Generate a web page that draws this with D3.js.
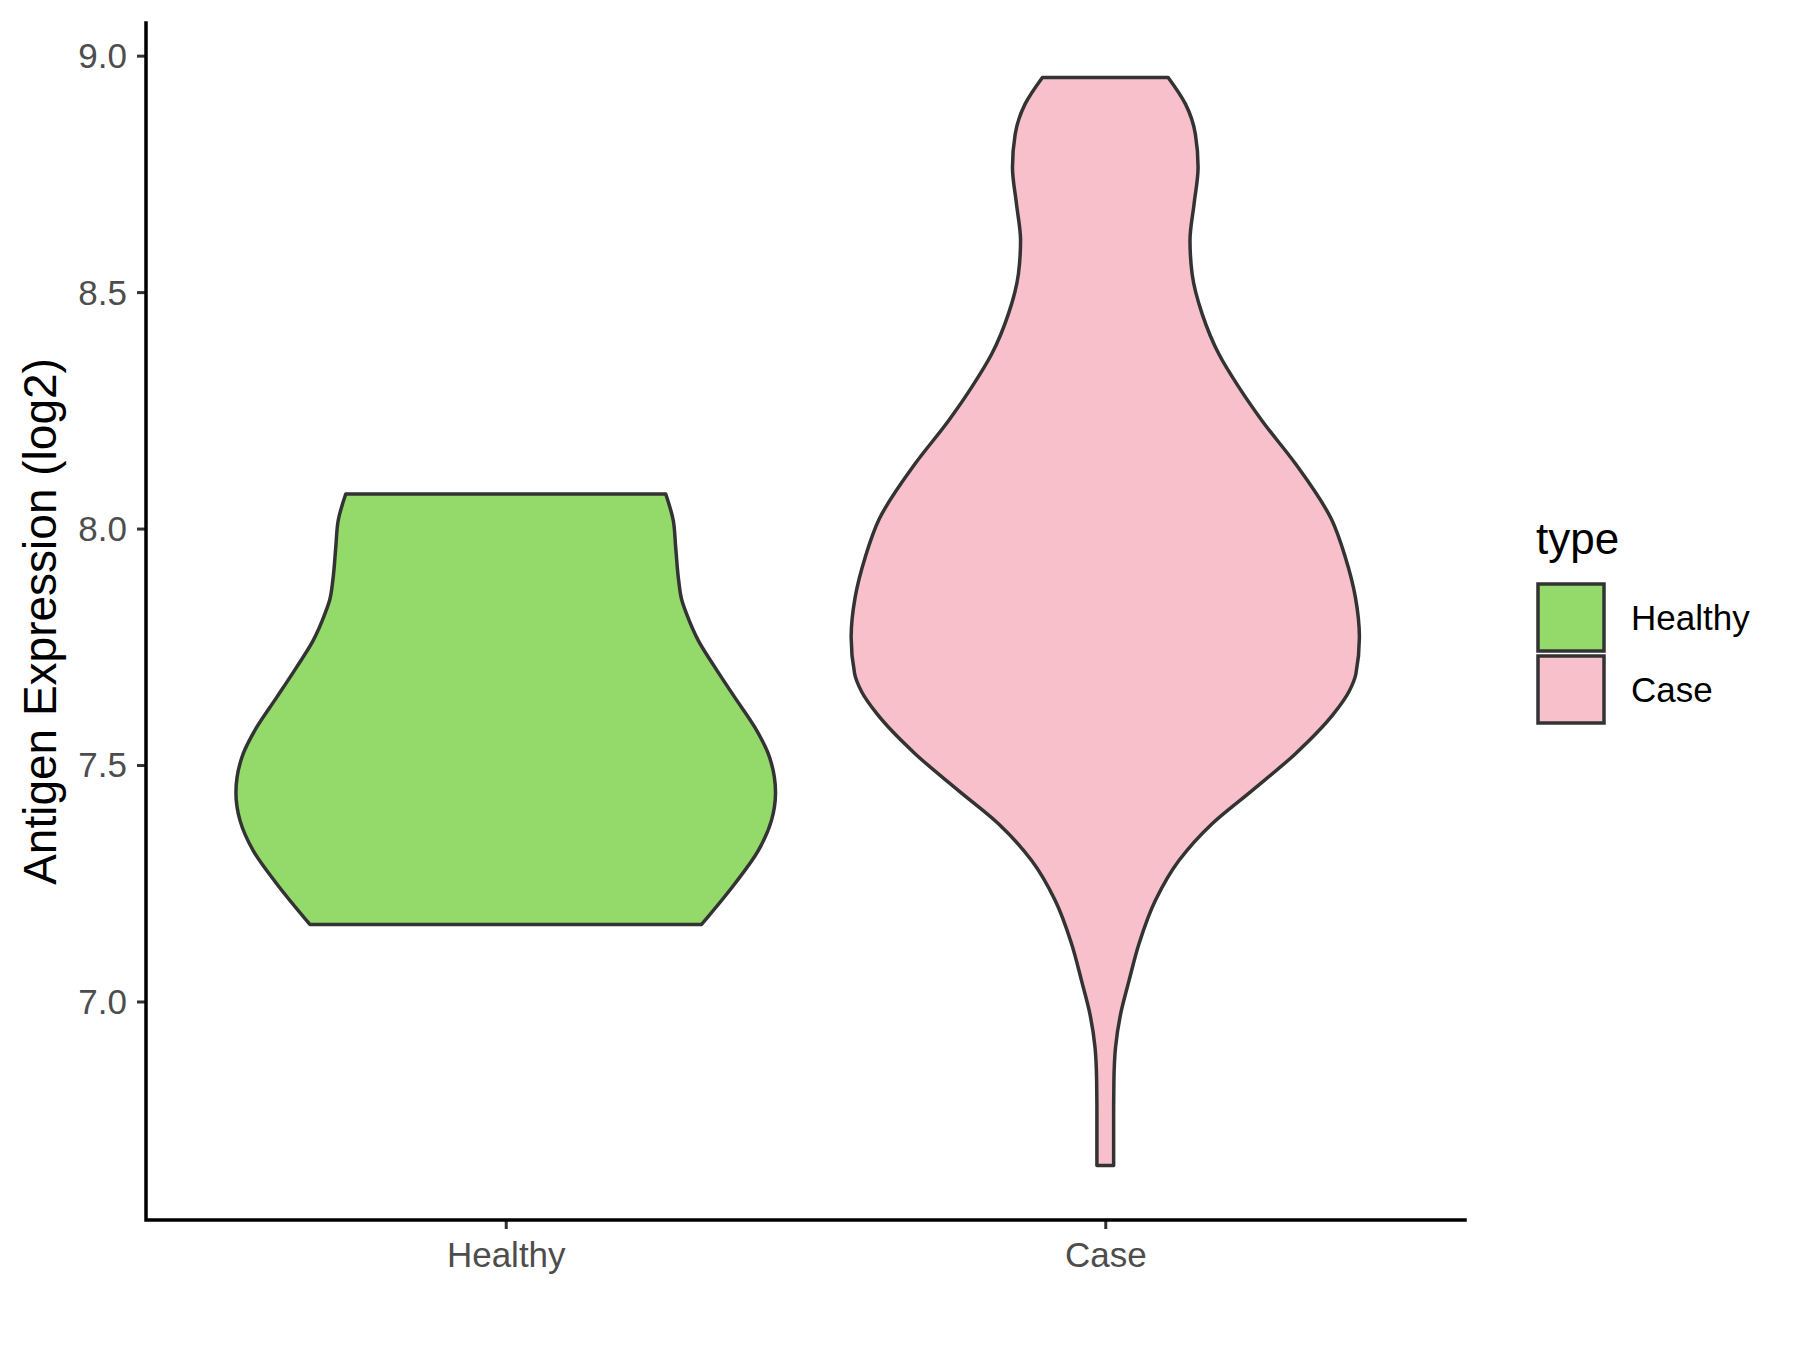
<!DOCTYPE html>
<html>
<head>
<meta charset="utf-8">
<script src="https://cdn.jsdelivr.net/npm/d3@7"></script>
<style>
  html, body { margin: 0; padding: 0; background: #ffffff; }
  svg { display: block; }
  text { font-family: "Liberation Sans", Arial, Helvetica, sans-serif; }
</style>
</head>
<body>
<svg id="chart" width="1800" height="1350"></svg>
<script>
// ---- data ----
const categories = ["Healthy", "Case"];
const fills = ["#93da6a", "#f7c0cb"];
const yTicks = [7.0, 7.5, 8.0, 8.5, 9.0];

// Healthy violin: expression values and relative density (1 = widest violin)
const healthyValues  = [8.073, 8.017, 7.960, 7.890, 7.850, 7.820, 7.763, 7.707, 7.643, 7.580, 7.524, 7.442, 7.383, 7.319, 7.249, 7.163];
const healthyDensity = [0.593, 0.621, 0.630, 0.641, 0.652, 0.670, 0.714, 0.775, 0.849, 0.923, 0.973, 1.000, 0.985, 0.936, 0.849, 0.726];

// Case violin
const caseValues  = [8.954, 8.898, 8.834, 8.764, 8.686, 8.609, 8.538, 8.454, 8.369, 8.299, 8.228, 8.137, 8.020, 7.939, 7.855, 7.770, 7.693, 7.655, 7.608, 7.524, 7.446, 7.376, 7.298, 7.214, 7.122, 7.044, 6.974, 6.903, 6.833, 6.763, 6.653];
const caseDensity = [0.233, 0.297, 0.334, 0.344, 0.329, 0.314, 0.322, 0.359, 0.421, 0.495, 0.581, 0.705, 0.838, 0.890, 0.927, 0.942, 0.929, 0.903, 0.846, 0.705, 0.544, 0.396, 0.273, 0.186, 0.125, 0.088, 0.057, 0.038, 0.032, 0.031, 0.031];

const series = [
  { name: "Healthy", values: healthyValues, density: healthyDensity },
  { name: "Case",    values: caseValues,    density: caseDensity }
];

// ---- layout ----
const svg = d3.select("#chart");
const pLeft = 146, pRight = 1465, pTop = 23, pBottom = 1220;

const allVals = healthyValues.concat(caseValues);
const vMin = d3.min(allVals), vMax = d3.max(allVals);
const pad = (vMax - vMin) * 0.05;

const y = d3.scaleLinear().domain([vMin - pad, vMax + pad]).range([pBottom, pTop]);
const x = d3.scalePoint().domain(categories).range([pLeft, pRight]).padding(0.6);
const w = d3.scaleLinear().domain([0, 1]).range([0, x.step() * 0.45]);
const color = d3.scaleOrdinal().domain(categories).range(fills);

// ---- violins ----
const g = svg.append("g");
series.forEach(s => {
  const pts = s.values.map((v, i) => ({ v: v, d: s.density[i] }));
  const cx = x(s.name);
  const area = d3.area()
    .y(d => y(d.v))
    .x0(d => cx - w(d.d))
    .x1(d => cx + w(d.d))
    .curve(d3.curveMonotoneY);
  g.append("path")
    .datum(pts)
    .attr("d", area)
    .attr("fill", color(s.name))
    .attr("stroke", "#333333")
    .attr("stroke-width", 3.5)
    .attr("stroke-linejoin", "round");
});

// ---- axes ----
const yAxis = d3.axisLeft(y).tickValues(yTicks).tickFormat(d3.format(".1f")).tickSize(9).tickPadding(10);
const gy = svg.append("g").attr("transform", `translate(${pLeft},0)`).call(yAxis);
gy.select(".domain").remove();
gy.selectAll(".tick line").attr("stroke", "#333333").attr("stroke-width", 3);
gy.selectAll(".tick text").attr("fill", "#4d4d4d").attr("font-size", 35).attr("dy", "0.34em");

const xAxis = d3.axisBottom(x).tickSize(9).tickPadding(13);
const gx = svg.append("g").attr("transform", `translate(0,${pBottom})`).call(xAxis);
gx.select(".domain").remove();
gx.selectAll(".tick line").attr("stroke", "#333333").attr("stroke-width", 3);
gx.selectAll(".tick text").attr("fill", "#4d4d4d").attr("font-size", 35).attr("dy", "0.71em");

// axis lines (L shape)
svg.append("path")
  .attr("d", `M${pLeft},${pTop}V${pBottom}H${pRight}`)
  .attr("fill", "none")
  .attr("stroke", "#000000")
  .attr("stroke-width", 3.5)
  .attr("stroke-linecap", "square");

// y axis title
svg.append("text")
  .attr("transform", `translate(56,${(pTop + pBottom) / 2}) rotate(-90)`)
  .attr("text-anchor", "middle")
  .attr("font-size", 46)
  .attr("fill", "#000000")
  .text("Antigen Expression (log2)");

// ---- legend ----
const lg = svg.append("g");
lg.append("text")
  .attr("x", 1536).attr("y", 554)
  .attr("font-size", 44)
  .attr("fill", "#000000")
  .text("type");

categories.forEach((c, i) => {
  const ky = 584 + i * 72;
  lg.append("rect")
    .attr("x", 1538).attr("y", ky)
    .attr("width", 66).attr("height", 67)
    .attr("fill", color(c))
    .attr("stroke", "#333333")
    .attr("stroke-width", 3.5);
  lg.append("text")
    .attr("x", 1631).attr("y", ky + 46)
    .attr("font-size", 35)
    .attr("fill", "#000000")
    .text(c);
});
</script>
</body>
</html>
